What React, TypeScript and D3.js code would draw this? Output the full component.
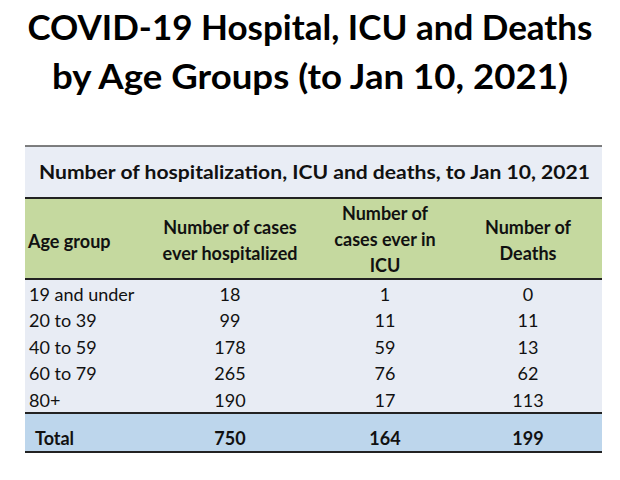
import React from "react";
import * as d3 from "d3";

const titleLines = ["COVID-19 Hospital, ICU and Deaths", "by Age Groups (to Jan 10, 2021)"];
const subtitle = "Number of hospitalization, ICU and deaths, to Jan 10, 2021";
const headers = [["Age group"], ["Number of cases", "ever hospitalized"], ["Number of", "cases ever in", "ICU"], ["Number of", "Deaths"]];
const ageGroups = ["19 and under", "20 to 39", "40 to 59", "60 to 79", "80+"];
const hospitalized = [18, 99, 178, 265, 190];
const icu = [1, 11, 59, 76, 17];
const deaths = [0, 11, 13, 62, 113];
const totals = ["Total", "750", "164", "199"];

const W = 620, H = 480;
const FONT = "Lato, 'Open Sans', sans-serif";

export default function App() {
  const x0 = 25, x1 = 602;
  const colCenters = [0, 230, 385, 528];
  const rowY = d3.scalePoint<string>().domain(ageGroups).range([294, 400]);
  const headerLines = (n: number) => (n === 1 ? [242] : n === 2 ? [228, 254] : [214, 240, 266]);
  return (
    <svg width={W} height={H} style={{ position: "absolute", left: 0, top: 0, background: "#fff" }}>
      {titleLines.map((t, i) => (
        <text key={i} x={W / 2} y={i === 0 ? 40 : 89} textAnchor="middle" fontFamily={FONT} fontWeight={700}
          fontSize={35} fill="#000" textLength={i === 0 ? 565 : 516} lengthAdjust="spacingAndGlyphs">{t}</text>
      ))}
      <rect x={x0} y={146} width={x1 - x0} height={52} fill="#e9edf5" />
      <rect x={x0} y={198} width={x1 - x0} height={81} fill="#c5d99f" />
      <rect x={x0} y={279} width={x1 - x0} height={134} fill="#e8ecf4" />
      <rect x={x0} y={413} width={x1 - x0} height={39} fill="#bdd6ec" />
      <line x1={x0} x2={x1} y1={146} y2={146} stroke="#555" strokeWidth={1.5} />
      <line x1={x0} x2={x1} y1={198} y2={198} stroke="#222" strokeWidth={2} />
      <line x1={x0} x2={x1} y1={279} y2={279} stroke="#222" strokeWidth={2} />
      <line x1={x0} x2={x1} y1={413} y2={413} stroke="#222" strokeWidth={2} />
      <line x1={x0} x2={x1} y1={452} y2={452} stroke="#222" strokeWidth={2} />
      <text x={(x0 + x1) / 2 + 1} y={179} textAnchor="middle" fontFamily={FONT} fontWeight={700} fontSize={19}
        fill="#111" textLength={551} lengthAdjust="spacingAndGlyphs">{subtitle}</text>
      {headers.map((h, ci) =>
        h.map((line, li) => (
          <text key={ci + "-" + li} x={ci === 0 ? 28 : colCenters[ci]} y={headerLines(h.length)[li] + 6}
            textAnchor={ci === 0 ? "start" : "middle"} fontFamily={FONT} fontWeight={700} fontSize={18} fill="#111">{line}</text>
        ))
      )}
      {ageGroups.map((g, i) => {
        const y = (rowY(g) as number) + 6.5;
        return (
          <g key={g}>
            <text x={29} y={y} fontFamily={FONT} fontSize={18} fill="#111">{g}</text>
            <text x={colCenters[1]} y={y} textAnchor="middle" fontFamily={FONT} fontSize={18} fill="#111">{hospitalized[i]}</text>
            <text x={colCenters[2]} y={y} textAnchor="middle" fontFamily={FONT} fontSize={18} fill="#111">{icu[i]}</text>
            <text x={colCenters[3]} y={y} textAnchor="middle" fontFamily={FONT} fontSize={18} fill="#111">{deaths[i]}</text>
          </g>
        );
      })}
      {totals.map((t, ci) => (
        <text key={ci} x={ci === 0 ? 35 : colCenters[ci]} y={445} textAnchor={ci === 0 ? "start" : "middle"}
          fontFamily={FONT} fontWeight={700} fontSize={18} fill="#111">{t}</text>
      ))}
    </svg>
  );
}
